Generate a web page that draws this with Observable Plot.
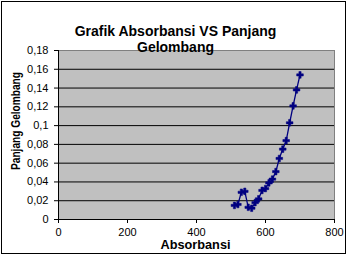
<!DOCTYPE html>
<html><head><meta charset="utf-8">
<script src="https://cdn.jsdelivr.net/npm/d3@7"></script>
<script src="https://cdn.jsdelivr.net/npm/@observablehq/plot@0.6"></script>
<style>
body{margin:0;background:#fff}
#wrap{position:relative;width:348px;height:256px}
#wrap svg{position:absolute;left:0;top:0}
#border{position:absolute;left:1px;top:1px;width:343px;height:251px;border:1px solid #000;pointer-events:none}
</style>
</head><body><div id="wrap"><div id="border"></div></div>
<script>
const xValues = [510,520,530,540,550,560,570,580,590,600,610,620,630,640,650,660,670,680,690,700];
const yValues = [0.015,0.016,0.029,0.030,0.013,0.012,0.018,0.022,0.031,0.033,0.039,0.043,0.051,0.065,0.075,0.084,0.103,0.121,0.138,0.154];
const xTicks = [0,200,400,600,800];
const yTicks = [0,0.02,0.04,0.06,0.08,0.1,0.12,0.14,0.16,0.18];
const titleLines = ["Grafik Absorbansi VS Panjang","Gelombang"];
const xTitle = "Absorbansi";
const yTitle = "Panjang Gelombang";

const fmt = d => String(+d.toFixed(2)).replace(".", ",");
const data = xValues.map((x,i)=>({x, y:yValues[i]}));
const font = "'Liberation Sans', Arial, sans-serif";

const chart = Plot.plot({
  width:348, height:256, marginLeft:58, marginRight:14, marginTop:50, marginBottom:37,
  style:{fontFamily:font, fontSize:"11px", color:"#000", background:"transparent"},
  x:{domain:[0,800]},
  y:{domain:[0,0.18]},
  marks:[
    Plot.frame({fill:"#c0c0c0", stroke:"#808080"}),
    Plot.ruleY(yTicks.filter(d=>d>0 && d<0.18), {stroke:"#000", strokeWidth:1}),
    Plot.axisY(yTicks, {tickSize:4, tickPadding:6, tickFormat:fmt, label:null, fontSize:11}),
    Plot.axisX(xTicks, {tickSize:4, tickPadding:5, label:null, fontSize:11}),
    Plot.ruleX([0], {stroke:"#000"}),
    Plot.ruleY([0], {stroke:"#000"}),
    Plot.line(data, {x:"x", y:"y", stroke:"#000080", strokeWidth:1.3}),
    Plot.dot(data, {x:"x", y:"y", symbol:"cross", fill:"#000080", stroke:"#000080", strokeWidth:0.5, r:2.8}),
    Plot.text([titleLines[0]], {text:d=>d, frameAnchor:"top-left", dx:117, dy:-24, fontWeight:"bold", fontSize:14, textAnchor:"middle"}),
    Plot.text([titleLines[1]], {text:d=>d, frameAnchor:"top-left", dx:117, dy:-8, fontWeight:"bold", fontSize:14, textAnchor:"middle"}),
    Plot.text([xTitle], {text:d=>d, frameAnchor:"bottom-left", dx:137, dy:29, fontWeight:"bold", fontSize:12, textAnchor:"middle", className:"xtitle"}),
    Plot.text([yTitle], {text:d=>d, frameAnchor:"left", dx:-42, dy:-14, rotate:-90, fontWeight:"bold", fontSize:12, textAnchor:"middle", className:"ytitle"})
  ]
});
d3.select(chart).selectAll(".ytitle text").attr("textLength", 98).attr("lengthAdjust", "spacingAndGlyphs");
d3.select(chart).selectAll(".xtitle text").attr("textLength", 70).attr("lengthAdjust", "spacingAndGlyphs");
document.getElementById("wrap").prepend(chart);
</script>
</body></html>
